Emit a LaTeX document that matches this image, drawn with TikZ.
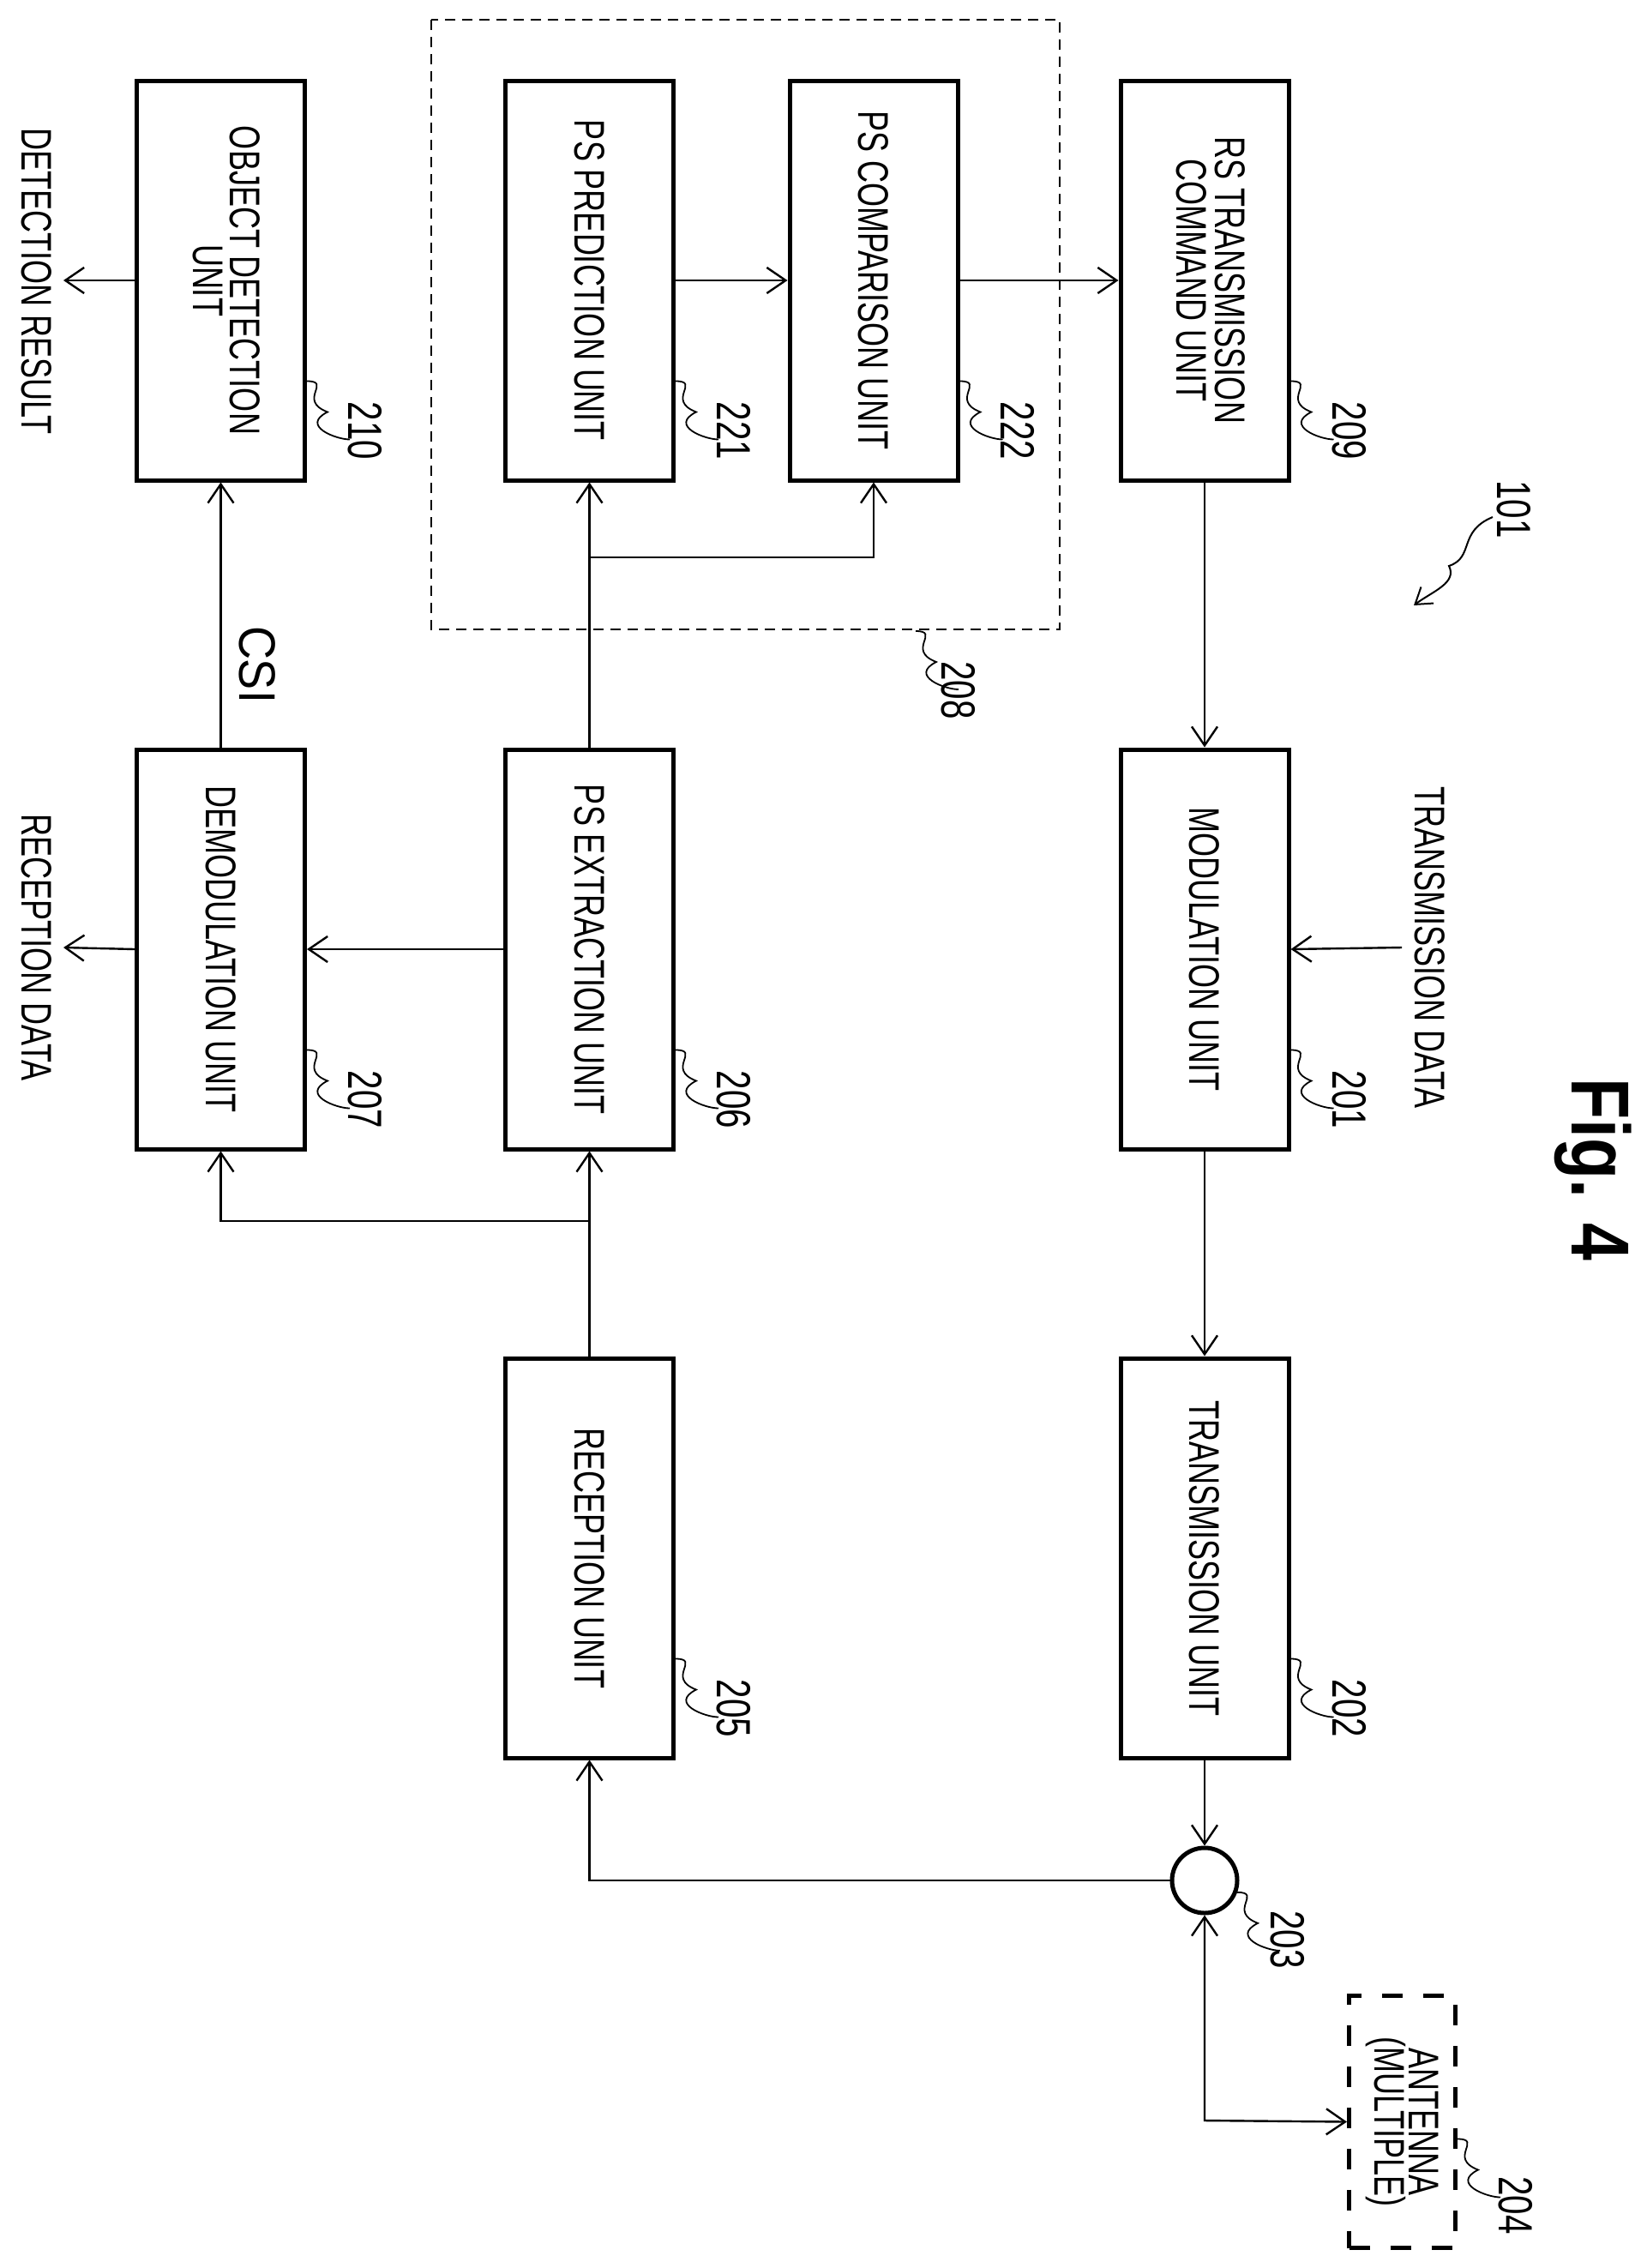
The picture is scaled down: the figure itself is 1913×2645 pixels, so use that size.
\documentclass[tikz,border=0pt]{standalone}
\usepackage{fontspec}
\setmainfont{Liberation Sans}
\newfontfamily\nar{Liberation Sans}[FakeStretch=0.72]
\newfontfamily\csif{Liberation Sans}[FakeStretch=0.9]
\newfontfamily\figf{Liberation Sans}[FakeStretch=0.82]
\usetikzlibrary{arrows.meta}
\begin{document}
\begin{tikzpicture}[x=0.5pt,y=-0.5pt,
  box/.style={draw,line width=2.5pt,minimum width=98pt,minimum height=233pt,
    inner sep=0pt,font=\nar\fontsize{25}{24}\selectfont,align=center},
  txt/.style={rotate=-90,font=\nar\fontsize{25}{24}\selectfont,align=center,inner sep=0pt},
  num/.style={rotate=-90,font=\nar\fontsize{28}{28}\selectfont,inner sep=0pt},
  con/.style={line width=1.2pt},
  arr/.style={con,-{Straight Barb[length=11pt,width=15pt]}},
  sq/.style={line width=0.9pt},
  squig/.style={insert path={.. controls +(30,0) and +(-36,-14) .. ++(24,36) .. controls +(-32,16) and +(-16,0) .. ++(26,32)}}]
\useasboundingbox (0,0) rectangle (1913,2645);
% dashed group 208
\draw[line width=1.1pt,dash pattern=on 6pt off 4pt] (503,23) rectangle (1236,734);
% boxes
\node[box] (obj) at (257.5,327) {\rotatebox{-90}{\begin{tabular}{@{}c@{}}OBJECT DETECTION\\[-3pt]UNIT\end{tabular}}};
\node[box] (pred) at (687.5,327) {\rotatebox{-90}{PS PREDICTION UNIT}};
\node[box] (comp) at (1019,327) {\rotatebox{-90}{PS COMPARISON UNIT}};
\node[box] (rs) at (1405,327) {\rotatebox{-90}{\begin{tabular}{@{}c@{}}RS TRANSMISSION\\[-2pt]COMMAND UNIT\end{tabular}}};
\node[box] (demod) at (257.5,1107) {\rotatebox{-90}{DEMODULATION UNIT}};
\node[box] (ext) at (687.5,1107) {\rotatebox{-90}{PS EXTRACTION UNIT}};
\node[box] (mod) at (1405,1107) {\rotatebox{-90}{MODULATION UNIT}};
\node[box] (recep) at (687.5,1817) {\rotatebox{-90}{RECEPTION UNIT}};
\node[box] (trans) at (1405,1817) {\rotatebox{-90}{TRANSMISSION UNIT}};
\node[draw,circle,line width=2.5pt,minimum size=38pt,inner sep=0pt] (circ) at (1405,2193) {};
\node[draw,line width=2.5pt,dash pattern=on 12pt off 12pt,minimum width=62pt,minimum height=147pt,inner sep=0pt] (ant) at (1635.5,2474.5) {};
\node[txt] (antt) at (1635.5,2474.5) {ANTENNA\\[-4pt](MULTIPLE)};
% outer texts
\node[txt] (dres) at (43,328) {DETECTION RESULT};
\node[txt] (rdat) at (43,1105) {RECEPTION DATA};
\node[txt] (tdat) at (1668,1105) {TRANSMISSION DATA};
\node[rotate=-90,font=\csif\fontsize{30}{30}\selectfont,inner sep=0pt] (csi) at (300,775) {CSI};
\node[rotate=-90,font=\figf\bfseries\fontsize{48}{48}\selectfont,inner sep=0pt] (fig) at (1858,1364) {Fig. 4};
\coordinate (dres0) at (74,327);
\coordinate (rdat0) at (74,1105);
\coordinate (tdat0) at (1635,1105);
\coordinate (j1) at (687.5,650);
\coordinate (j1b) at (1019,650);
\coordinate (j2) at (687.5,1424);
\coordinate (j2b) at (257.5,1424);
\coordinate (c1) at (687.5,2193);
\coordinate (c2) at (1405,2473);
% connectors
\draw[arr] (pred.east) -- (comp.west);
\draw[arr] (comp.east) -- (rs.west);
\draw[arr] (obj.west) -- (dres0);
\draw[arr] (rs.south) -- (mod.north);
\draw[arr] (mod.south) -- (trans.north);
\draw[arr] (trans.south) -- (circ.north);
\draw[arr] (circ.west) -- (c1) -- (recep.south);
\draw[con,{Straight Barb[length=11pt,width=15pt]}-{Straight Barb[length=11pt,width=15pt]}] (circ.south) -- (c2) -- (ant.west);
\draw[arr] (tdat0) -- (mod.east);
\draw[arr] (ext.west) -- (demod.east);
\draw[arr] (demod.west) -- (rdat0);
\draw[arr] (recep.north) -- (ext.south);
\draw[arr] (j2) -- (j2b) -- (demod.south);
\draw[arr] (ext.north) -- (pred.south);
\draw[arr] (j1) -- (j1b) -- (comp.south);
\draw[arr] (demod.north) -- (obj.south);
% reference numbers with squiggles
\foreach \b/\n in {obj/210,pred/221,comp/222,rs/209,demod/207,ext/206,mod/201,recep/205,trans/202}{
  \draw[sq] ([yshift=59pt]\b.south east) [squig];
  \node[num] (n\n) at ([xshift=34pt,yshift=30pt]\b.south east) {\n};
}
\draw[sq] (circ.-20) [squig];
\node[num] (n203) at (1502,2262) {203};
\draw[sq] ([yshift=-10pt]ant.east) [squig];
\node[num] (n204) at (1768,2572) {204};
\coordinate (g208) at (1068,736);
\draw[sq] (g208) [squig];
\node[num] (n208) at (1118,805) {208};
\node[num] (n101) at (1766,594) {101};
\coordinate (a101) at (1741,603);
\coordinate (b101) at (1649,706);
\draw[sq,line width=1pt,-{Straight Barb[length=9pt,width=12pt]}] (a101) .. controls (1700,620) and (1720,650) .. (1690,660) .. controls (1700,680) and (1670,690) .. (b101);
\end{tikzpicture}
\end{document}
